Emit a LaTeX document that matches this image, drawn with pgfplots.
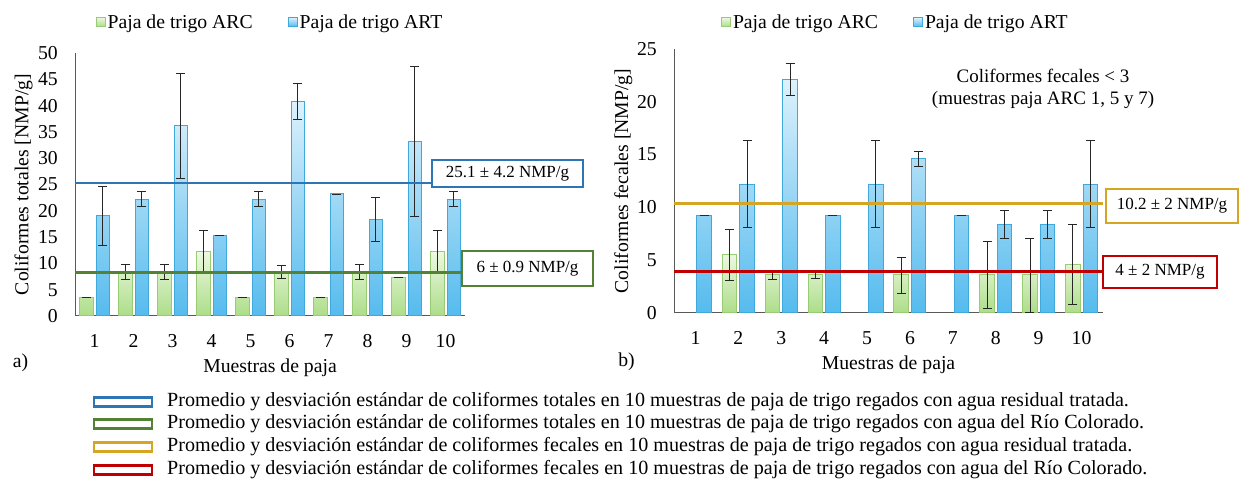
\documentclass[border=0pt]{standalone}
\usepackage{pgfplots}
\pgfplotsset{compat=1.18}
\usepackage{pgfplotstable}
\usepackage{fontspec}
\setmainfont{Liberation Serif}
\definecolor{gTop}{HTML}{EDF8E2}
\definecolor{gBot}{HTML}{ACDD88}
\definecolor{gEdge}{HTML}{98CC74}
\definecolor{bTop}{HTML}{DDF1FC}
\definecolor{bBot}{HTML}{55BBEE}
\definecolor{bEdge}{HTML}{3EA9DA}
\definecolor{lBlue}{HTML}{2E75B6}
\definecolor{lGreen}{HTML}{548235}
\definecolor{lOrange}{HTML}{D6A524}
\definecolor{lRed}{HTML}{C00000}
\newcommand\fa{\fontsize{19.7}{22}\selectfont}
\newcommand\fb{\fontsize{17}{19}\selectfont}
\newcommand\fc{\fontsize{20.1}{22}\selectfont}

\pgfplotstableread{
x arc arce art arte
1 3.6 0 19.1 5.6
2 8.4 1.4 22.2 1.4
3 8.4 1.4 36.2 10
4 12.2 4.1 15.3 0
5 3.6 0 22.2 1.4
6 8.4 1.2 40.8 3.5
7 3.6 0 23.2 0
8 8.4 1.4 18.3 4.2
9 7.4 0 33.2 14.3
10 12.2 4.1 22.2 1.4
}\totales
\pgfplotstableread{
x arc arce
2 5.5 2.45
3 3.6 0.4
4 3.6 0.3
6 3.6 1.7
8 3.6 3.2
9 3.6 3.5
10 4.6 3.8
}\fecarc
\pgfplotstableread{
x art arte
1 9.2 0
2 12.2 4.1
3 22.1 1.5
4 9.2 0
5 12.2 4.1
6 14.6 0.7
7 9.2 0
8 8.4 1.3
9 8.4 1.3
10 12.2 4.1
}\fecart

\pgfplotsset{
  panel/.style={
    scale only axis, anchor=south west,
    xmin=0.5, xmax=10.5, ymin=0,
    xtick={1,...,10},
    axis x line*=bottom, axis y line*=left,
    axis line style={black!65, line width=1pt, -},
    major tick length=0pt,
    tick label style={font=\fa, inner sep=0pt},
    /pgf/number format/assume math mode=true,
    yticklabel style={xshift=-17pt},
    xticklabel style={yshift=-18pt},
    label style={font=\fa, inner sep=0pt},
    xlabel={Muestras de paja},
    ybar=3pt,
    legend columns=2,
    legend style={draw=none, fill=none, font=\fa, anchor=center,
      /tikz/every even column/.append style={column sep=33pt}},
    legend image code/.code={\draw[#1] (0pt,-4.5pt) rectangle (9pt,4.5pt);},
    error bars/y dir=both, error bars/y explicit,
    error bars/error bar style={black!85, line width=0.8pt},
    error bars/error mark options={rotate=90, black!85, mark size=4.5pt, line width=0.8pt},
  },
  arcstyle/.style={draw=gEdge, line width=1pt, top color=gTop, bottom color=gBot},
  artstyle/.style={draw=bEdge, line width=1pt, top color=bTop, bottom color=bBot},
}

\begin{document}
\begin{tikzpicture}
\useasboundingbox (0,0) rectangle (1239pt,481pt);
% ---- panel a
\begin{axis}[panel, at={(75pt,165pt)}, width=390pt, height=263pt,
  ymax=50, ytick={0,5,...,50}, bar width=13.5pt,
  xlabel style={at={(axis description cs:0.5,0)}, anchor=center, yshift=-52pt},
  ylabel={Coliformes totales [NMP/g]},
  ylabel style={at={(axis description cs:-0.132,0.5)}, anchor=center},
  legend style={at={(axis description cs:0.5,1.118)}},
]
\addplot[arcstyle] table[x=x, y=arc, y error=arce]{\totales};
\addlegendentry{Paja de trigo ARC}
\addplot[artstyle] table[x=x, y=art, y error=arte]{\totales};
\addlegendentry{Paja de trigo ART}
\addplot[sharp plot, lBlue, line width=2.5pt, forget plot, error bars/y dir=none] coordinates {(0.5,25.3) (9.66,25.3)};
\addplot[sharp plot, lGreen, line width=2.5pt, forget plot, error bars/y dir=none] coordinates {(0.5,8.3) (10.5,8.3)};
\end{axis}
% ---- panel b
\begin{axis}[panel, at={(674pt,168pt)}, width=429pt, height=264pt,
  ymax=25, ytick={0,5,...,25}, bar width=14.5pt,
  xlabel style={at={(axis description cs:0.5,0)}, anchor=center, yshift=-52pt},
  ylabel={Coliformes fecales [NMP/g]},
  ylabel style={at={(axis description cs:-0.118,0.5)}, anchor=center},
  legend style={at={(axis description cs:0.516,1.102)}},
]
\addplot[arcstyle] table[x=x, y=arc, y error=arce]{\fecarc};
\addlegendentry{Paja de trigo ARC}
\addplot[artstyle] table[x=x, y=art, y error=arte]{\fecart};
\addlegendentry{Paja de trigo ART}
\addplot[sharp plot, lOrange, line width=2.5pt, forget plot, error bars/y dir=none] coordinates {(0.5,10.35) (10.5,10.35)};
\addplot[sharp plot, lRed, line width=2.5pt, forget plot, error bars/y dir=none] coordinates {(0.5,3.95) (10.5,3.95)};
\end{axis}
% ---- value boxes
\node[draw=lBlue, line width=2pt, fill=white, minimum width=151pt, minimum height=27pt, font=\fb, inner sep=0pt] at (507.5pt,307.5pt) {25.1 ± 4.2 NMP/g};
\node[draw=lGreen, line width=2pt, fill=white, minimum width=131pt, minimum height=35pt, font=\fb, inner sep=0pt] at (527.5pt,212.5pt) {6 ± 0.9 NMP/g};
\node[draw=lOrange, line width=2pt, fill=white, minimum width=132pt, minimum height=34pt, font=\fb, inner sep=0pt] at (1172pt,275pt) {10.2 ± 2 NMP/g};
\node[draw=lRed, line width=2pt, fill=white, minimum width=114pt, minimum height=32pt, font=\fb, inner sep=0pt] at (1160pt,209pt) {4 ± 2 NMP/g};
% ---- annotation
\node[font=\fontsize{19}{22}\selectfont, align=center, inner sep=0pt] at (1043pt,392pt) {Coliformes fecales < 3\\(muestras paja ARC 1, 5 y 7)};
\node[font=\fa, inner sep=0pt] at (20.5pt,118pt) {a)};
\node[font=\fa, inner sep=0pt] at (626.5pt,119pt) {b)};
% ---- bottom legend
\foreach \c/\y/\t in {lBlue/79/{Promedio y desviación estándar de coliformes totales en 10 muestras de paja de trigo regados con agua residual tratada.},
  lGreen/57/{Promedio y desviación estándar de coliformes totales en 10 muestras de paja de trigo regados con agua del Río Colorado.},
  lOrange/34/{Promedio y desviación estándar de coliformes fecales en 10 muestras de paja de trigo regados con agua residual tratada.},
  lRed/11/{Promedio y desviación estándar de coliformes fecales en 10 muestras de paja de trigo regados con agua del Río Colorado.}}{
  \draw[\c, line width=2.5pt] (94pt,\y pt-4.5pt) rectangle (152pt,\y pt+4.5pt);
  \node[anchor=west, font=\fc, inner sep=0pt] at (167pt,\y pt) {\t};
}
\end{tikzpicture}
\end{document}
